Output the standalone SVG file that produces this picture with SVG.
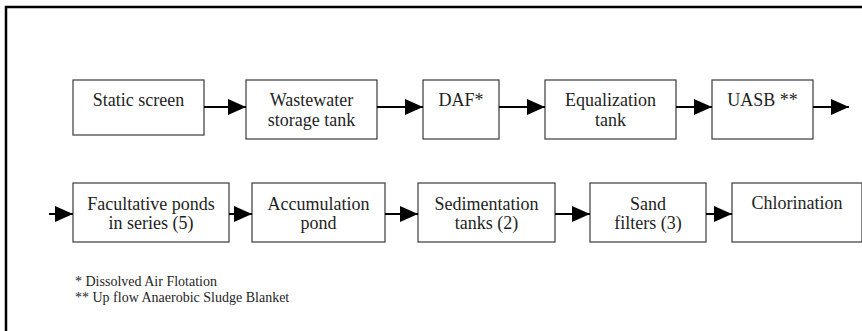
<svg xmlns="http://www.w3.org/2000/svg" width="862" height="331" viewBox="0 0 862 331">
  <style>
    .box { fill: #ffffff; stroke: #3a3a3a; stroke-width: 1.2; }
    .lbl { font-family: "Liberation Serif", "Times New Roman", serif; font-size: 18px; fill: #1e1e1e; text-anchor: middle; }
    .note { font-family: "Liberation Serif", "Times New Roman", serif; font-size: 14px; fill: #1e1e1e; }
    .flow { stroke: #000000; stroke-width: 2; fill: none; marker-end: url(#head); }
  </style>
  <defs>
    <marker id="head" markerUnits="userSpaceOnUse" markerWidth="19" markerHeight="17" refX="18" refY="8" orient="auto">
      <path d="M0,0 L18,8 L0,16 Z" fill="#000000"/>
    </marker>
  </defs>
  <rect width="862" height="331" fill="#ffffff"/>
  <!-- outer frame: left and top edges -->
  <path d="M6,331 V7 H862" fill="none" stroke="#000000" stroke-width="2.5"/>

  <!-- upper row of process steps -->
  <g id="static-screen">
    <rect class="box" x="73" y="80" width="131" height="55"/>
    <text class="lbl" x="138.5" y="106">Static screen</text>
  </g>
  <g id="storage-tank">
    <rect class="box" x="246" y="80" width="131" height="59"/>
    <text class="lbl" x="311.5" y="106">Wastewater</text>
    <text class="lbl" x="311.5" y="126">storage tank</text>
  </g>
  <g id="daf">
    <rect class="box" x="423" y="80" width="76" height="59"/>
    <text class="lbl" x="461" y="106">DAF*</text>
  </g>
  <g id="equalization">
    <rect class="box" x="545" y="80" width="131" height="59"/>
    <text class="lbl" x="610.5" y="106">Equalization</text>
    <text class="lbl" x="610.5" y="126">tank</text>
  </g>
  <g id="uasb">
    <rect class="box" x="712" y="80" width="101" height="59"/>
    <text class="lbl" x="762.5" y="106">UASB **</text>
  </g>

  <!-- lower row of process steps -->
  <g id="facultative-ponds">
    <rect class="box" x="73" y="183" width="156" height="59"/>
    <text class="lbl" x="151" y="210">Facultative ponds</text>
    <text class="lbl" x="151" y="229">in series (5)</text>
  </g>
  <g id="accumulation-pond">
    <rect class="box" x="252" y="183" width="133" height="59"/>
    <text class="lbl" x="318.5" y="210">Accumulation</text>
    <text class="lbl" x="318.5" y="229">pond</text>
  </g>
  <g id="sedimentation">
    <rect class="box" x="418" y="183" width="137" height="59"/>
    <text class="lbl" x="486.5" y="210">Sedimentation</text>
    <text class="lbl" x="486.5" y="229">tanks (2)</text>
  </g>
  <g id="sand-filters">
    <rect class="box" x="590" y="183" width="116" height="59"/>
    <text class="lbl" x="648" y="210">Sand</text>
    <text class="lbl" x="648" y="229">filters (3)</text>
  </g>
  <g id="chlorination">
    <rect class="box" x="732" y="183" width="130" height="59"/>
    <text class="lbl" x="797" y="209">Chlorination</text>
  </g>

  <g id="connectors">
    <line class="flow" x1="204" y1="107" x2="246" y2="107"/>
    <line class="flow" x1="377" y1="107" x2="423" y2="107"/>
    <line class="flow" x1="499" y1="107" x2="545" y2="107"/>
    <line class="flow" x1="676" y1="107" x2="712" y2="107"/>
    <line class="flow" x1="813" y1="107" x2="849" y2="107"/>
    <line class="flow" x1="49" y1="214" x2="73" y2="214"/>
    <line class="flow" x1="229" y1="214" x2="252" y2="214"/>
    <line class="flow" x1="385" y1="214" x2="418" y2="214"/>
    <line class="flow" x1="555" y1="214" x2="590" y2="214"/>
    <line class="flow" x1="706" y1="214" x2="732" y2="214"/>
  </g>

  <g id="notes">
    <text class="note" x="75" y="286">* Dissolved Air Flotation</text>
    <text class="note" x="75" y="302">** Up flow Anaerobic Sludge Blanket</text>
  </g>
</svg>
